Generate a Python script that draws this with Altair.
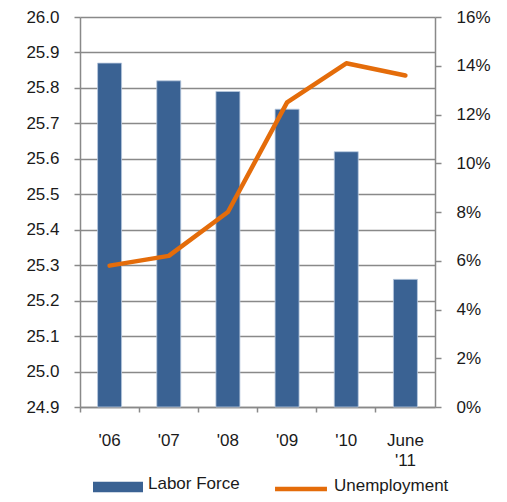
import altair as alt
import pandas as pd

years = ["'06", "'07", "'08", "'09", "'10", "June|'11"]
labor_force = [25.87, 25.82, 25.79, 25.74, 25.62, 25.26]
unemployment = [0.058, 0.062, 0.080, 0.125, 0.141, 0.136]
left_ticks = [24.9, 25.0, 25.1, 25.2, 25.3, 25.4, 25.5, 25.6, 25.7, 25.8, 25.9, 26.0]
right_ticks = [0, 0.02, 0.04, 0.06, 0.08, 0.10, 0.12, 0.14, 0.16]

df = pd.DataFrame({
    "year": years,
    "labor": labor_force,
    "unemp": unemployment,
    "lf_name": ["Labor Force"] * len(years),
    "un_name": ["Unemployment"] * len(years),
})

FONT = "Liberation Sans"
GRID = "#898989"
BLUE = "#3A6293"
ORANGE = "#E46C0A"

x_enc = alt.X(
    "year:N",
    sort=years,
    scale=alt.Scale(paddingInner=0, paddingOuter=0),
    axis=alt.Axis(
        title=None, labelAngle=0, bandPosition=0,
        labelExpr="split(datum.label, '|')", labelLineHeight=20,
        tickSize=5, tickColor=GRID, domainColor=GRID, domainWidth=1.5, tickWidth=1.5,
        labelPadding=20, labelFontSize=17, labelFont=FONT, labelColor="#1a1a1a",
        labelBaseline="top", grid=False,
    ),
)

bars = alt.Chart(df).mark_bar(size=24, stroke="#b9c9de", strokeWidth=0.8).encode(
    x=x_enc,
    y=alt.Y(
        "labor:Q",
        scale=alt.Scale(domain=[24.9, 26.0], zero=False, nice=False),
        axis=alt.Axis(
            title=None, values=left_ticks, format=".1f", orient="left",
            grid=True, gridColor=GRID, gridWidth=1.5, domainColor=GRID, domainWidth=1.5,
            tickColor=GRID, tickWidth=1.5, tickSize=6, labelPadding=15,
            labelFontSize=17, labelFont=FONT, labelColor="#1a1a1a",
        ),
    ),
    y2=alt.Y2(datum=24.9),
    color=alt.Color(
        "lf_name:N",
        scale=alt.Scale(domain=["Labor Force"], range=[BLUE]),
        legend=alt.Legend(
            title=None, orient="none", legendX=13, legendY=442, padding=0,
            symbolType="M-1,-0.09H1V0.33H-1Z", symbolSize=2500, symbolStrokeWidth=0,
            symbolOpacity=1, labelOffset=5, labelFontSize=17, labelFont=FONT,
            labelColor="#1a1a1a",
        ),
    ),
)

line = alt.Chart(df).mark_line(strokeWidth=4.5, strokeCap="round", strokeJoin="round").encode(
    x=alt.X("year:N", sort=years),
    y=alt.Y(
        "unemp:Q",
        scale=alt.Scale(domain=[0, 0.16], nice=False),
        axis=alt.Axis(
            title=None, values=right_ticks, format=".0%", orient="right",
            grid=False, domainColor=GRID, domainWidth=1.5, tickColor=GRID,
            tickWidth=1.5, tickSize=6, labelPadding=15,
            labelFontSize=17, labelFont=FONT, labelColor="#1a1a1a",
        ),
    ),
    stroke=alt.Stroke(
        "un_name:N",
        scale=alt.Scale(domain=["Unemployment"], range=[ORANGE]),
        legend=alt.Legend(
            title=None, orient="none", legendX=194, legendY=442, padding=0,
            symbolType="M-1.06,0.12H1.06", symbolSize=2401, symbolStrokeWidth=4.5,
            labelOffset=6, labelFontSize=17, labelFont=FONT, labelColor="#1a1a1a",
        ),
    ),
)

chart = (
    alt.layer(bars, line)
    .resolve_scale(y="independent")
    .properties(
        width=355, height=390,
        autosize=alt.AutoSizeParams(type="none"),
        padding={"left": 72, "top": 9, "right": 60, "bottom": 87},
    )
    .configure_view(stroke=None)
)

chart.save("out.html", embed_options={"renderer": "svg", "actions": False})
